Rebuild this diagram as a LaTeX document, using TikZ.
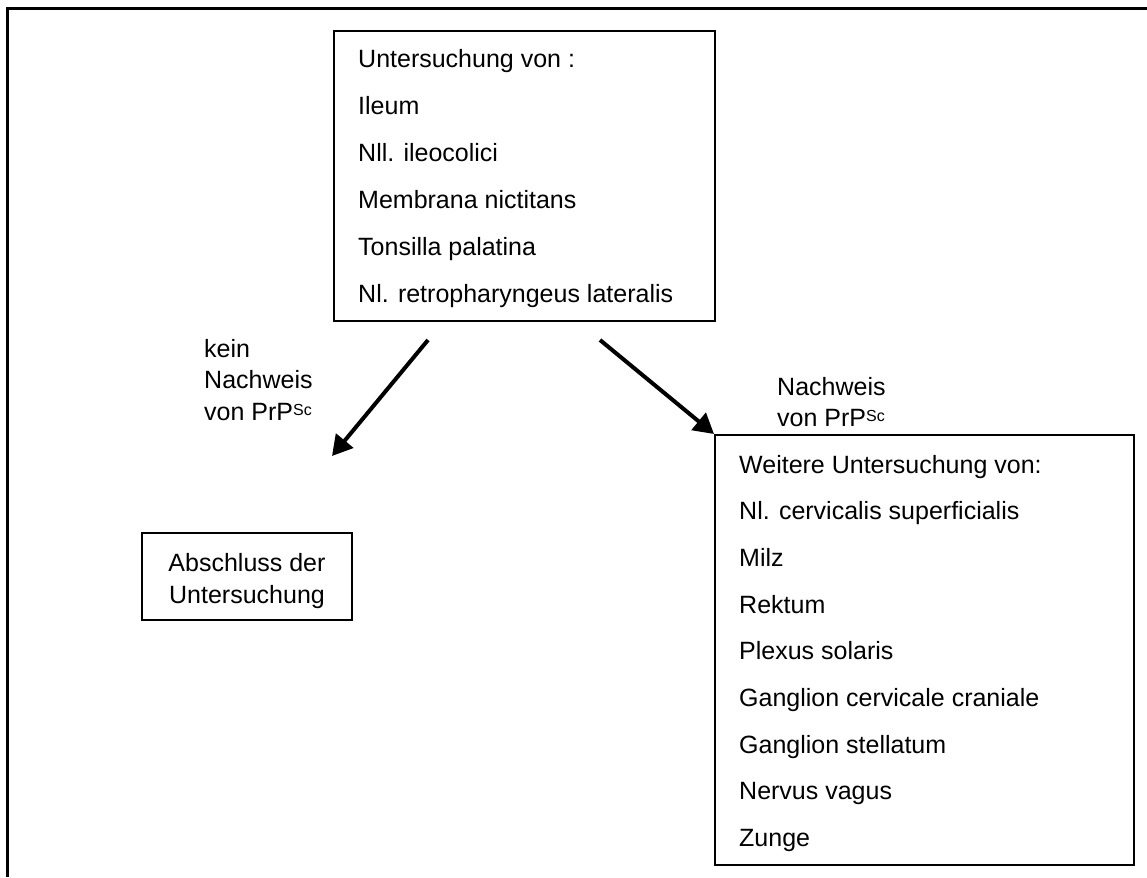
\documentclass[tikz,border=0pt]{standalone}
\usepackage{fontspec}
\setmainfont{Liberation Sans}
\usetikzlibrary{arrows.meta}
\definecolor{ink}{HTML}{000000}
\tikzset{frameline/.style={line width=3pt,ink}, listbox/.style={draw=ink,line width=2pt,inner sep=0pt,anchor=north west}, endbox/.style={draw=ink,line width=2pt,inner sep=0pt,minimum width=210pt,minimum height=87pt}, item/.style={font=\fontsize{25}{30}\selectfont,inner sep=0pt,anchor=base west}, note/.style={font=\fontsize{25}{31.5}\selectfont,inner sep=0pt,align=left,anchor=north west}, flowarrow/.style={line width=4pt,ink,-{Triangle[length=20pt,width=22pt]}}}
\newcommand{\prpsc}{PrP\raisebox{5pt}{\fontsize{16}{16}\selectfont Sc}}

\begin{document}
\begin{tikzpicture}[x=1pt,y=-1pt]
\useasboundingbox (0,0) rectangle (1147,877);
\draw[frameline] (7.5,877) -- (7.5,9) -- (1147,9);
% erste Untersuchung
\node[listbox,minimum width=381pt,minimum height=290pt] (probe) at (333,30) {};
\foreach \txt [count=\i from 0] in {Untersuchung von :,Ileum,Nll. ileocolici,Membrana nictitans,Tonsilla palatina,Nl. retropharyngeus lateralis}
 \node[item] (probe\i) at (358,68+46.8*\i) {\txt};
% weitere Untersuchung
\node[listbox,minimum width=419pt,minimum height=430pt] (further) at (714,434) {};
\foreach \txt [count=\i from 0] in {Weitere Untersuchung von:,Nl. cervicalis superficialis,Milz,Rektum,Plexus solaris,Ganglion cervicale craniale,Ganglion stellatum,Nervus vagus,Zunge}
 \node[item] (further\i) at (739,473+46.7*\i) {\txt};
% Abschluss
\node[endbox] (ende) at (247,576.5) {};
\node[note,align=center,anchor=center] (endetext) at (247,581) {Abschluss der\\Untersuchung};
% Pfeile
\coordinate (noStart) at ([xshift=95pt,yshift=-18pt]probe.south west);
\coordinate (noTip) at ([xshift=85pt,yshift=76pt]ende.north);
\coordinate (yesStart) at ([xshift=-116pt,yshift=-18pt]probe.south east);
\draw[flowarrow] (noStart) -- (noTip);
\draw[flowarrow] (yesStart) -- (further.north west);
\node[note] (nolabel) at (204,338.8) {kein\\Nachweis\\von \prpsc};
\node[note] (yeslabel) at (777,376.8) {Nachweis\\von \prpsc};
\end{tikzpicture}
\end{document}
